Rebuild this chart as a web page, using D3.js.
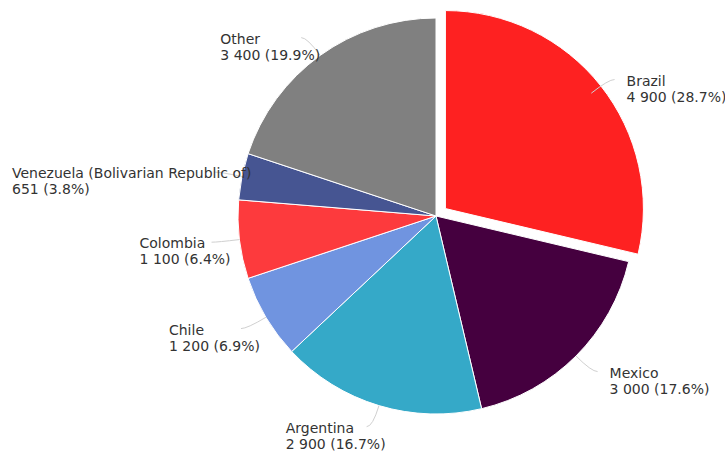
<!DOCTYPE html>
<html>
<head>
<meta charset="utf-8">
<script src="https://cdn.jsdelivr.net/npm/d3@7"></script>
<style>
  body { margin: 0; background: #fff; }
  text { font-family: "DejaVu Sans", sans-serif; font-size: 14px; fill: #333; }
</style>
</head>
<body>
<div id="chart"></div>
<script>
let width = 725
let height = 454

// data, clockwise from 12 o'clock
let countries = ['Brazil', 'Mexico', 'Argentina', 'Chile', 'Colombia', 'Venezuela (Bolivarian Republic of)', 'Other']
let values = [4900, 3000, 2900, 1200, 1100, 651, 3400]
let shares = [28.7, 17.6, 16.7, 6.9, 6.4, 3.8, 19.9]
let colors = ['#fe2121', '#45003f', '#35a9c8', '#7094e0', '#fd3a3d', '#465592', '#808080']
let exploded = ['Brazil']

let cx = 436
let cy = 216
let radius = 198
let explodeBy = 12
let labelDistance = 22

let svg = d3.select('#chart').append('svg')
    .attr('width', width)
    .attr('height', height)

let fmt = v => d3.format(',')(v).replace(/,/g, ' ')

let rows = countries.map((c, i) => ({ name: c, value: values[i], share: shares[i], color: colors[i] }))

let pie = d3.pie()
    .sort(null)
    .value(d => d.share)

let arc = d3.arc()
    .innerRadius(0)
    .outerRadius(radius)

let arcs = pie(rows)

let midAngle = d => (d.startAngle + d.endAngle) / 2
let polar = (a, r) => [cx + Math.sin(a) * r, cy - Math.cos(a) * r]

// slices
svg.append('g')
    .selectAll('path')
    .data(arcs)
    .join('path')
    .attr('d', arc)
    .attr('fill', d => d.data.color)
    .attr('stroke', '#fff')
    .attr('stroke-width', 1)
    .attr('stroke-linejoin', 'round')
    .attr('transform', d => {
        let off = exploded.includes(d.data.name) ? explodeBy : 0
        let a = midAngle(d)
        return `translate(${cx + Math.sin(a) * off},${cy - Math.cos(a) * off})`
    })

// connectors
let labelLayer = svg.append('g')
arcs.forEach(d => {
    let a = midAngle(d)
    let right = Math.sin(a) >= 0
    let p0 = polar(a, radius)
    let p1 = polar(a, radius + labelDistance)
    let p2 = [p1[0] + (right ? 6 : -6), p1[1]]
    labelLayer.append('path')
        .attr('d', `M${p0[0]},${p0[1]} Q${p1[0]},${p1[1]} ${p2[0]},${p2[1]}`)
        .attr('fill', 'none')
        .attr('stroke', '#d0d0d0')
        .attr('stroke-width', 1)
})

// labels
arcs.forEach(d => {
    let a = midAngle(d)
    let right = Math.sin(a) >= 0
    let p1 = polar(a, radius + labelDistance)
    let t = labelLayer.append('text')
        .attr('y', p1[1] + 6)
    t.append('tspan').text(d.data.name)
    t.append('tspan')
        .attr('dy', 16)
        .text(`${fmt(d.data.value)} (${d.data.share}%)`)
    let spans = t.selectAll('tspan').nodes()
    let w = d3.max(spans, n => n.getComputedTextLength())
    let x = right ? p1[0] + 18 : Math.max(12, p1[0] + 13 - w)
    t.selectAll('tspan').attr('x', x)
})
</script>
</body>
</html>
